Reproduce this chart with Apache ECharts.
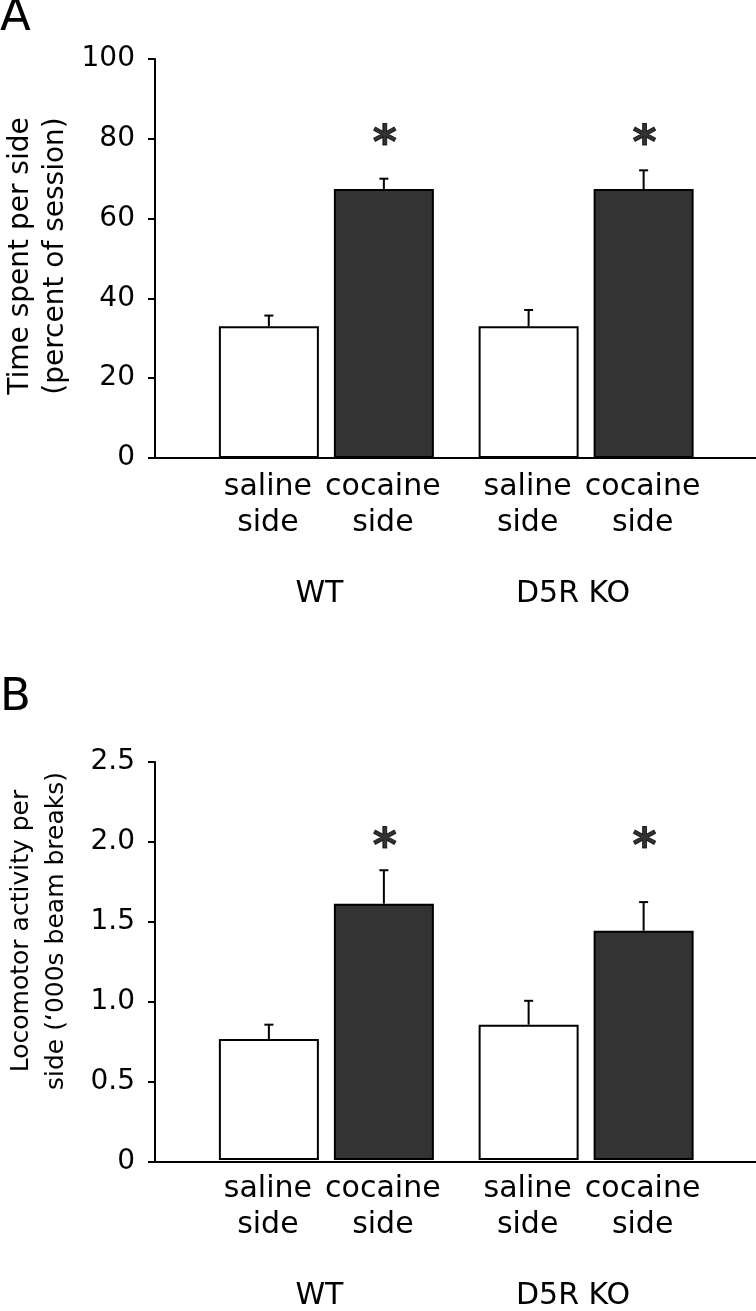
<!DOCTYPE html>
<html>
<head>
<meta charset="utf-8">
<script src="https://cdn.jsdelivr.net/npm/echarts@6/dist/echarts.min.js"></script>
<style>
html,body{margin:0;padding:0;background:#fff;}
#c{width:756px;height:1311px;}
</style>
</head>
<body>
<div id="c"></div>
<script>
// ---- data ----
var groups = ['WT', 'D5R KO'];
var sideLabels = ['saline\nside', 'cocaine\nside'];
var salineA = [33.0, 33.0];
var salineErrA = [2.7, 4.1];
var cocaineA = [67.4, 67.4];
var cocaineErrA = [2.6, 4.7];
var sigA = [81, 81];
var salineB = [0.76, 0.85];
var salineErrB = [0.09, 0.15];
var cocaineB = [1.61, 1.44];
var cocaineErrB = [0.21, 0.18];
var sigB = [2.02, 2.02];
var yTitleA = 'Time spent per side\n(percent of session)';
var yTitleB = 'Locomotor activity per\nside (\u2018000s beam breaks)';

// ---- layout ----
var FONT = '"DejaVu Sans", Verdana, sans-serif';
var BAR_OFF = 57.5;
var panels = [
  {top: 59, height: 399, max: 100, interval: 20, dec: 0, title: yTitleA, titleSize: 28, titleX: 38, titleY: 256,
   sal: salineA, salE: salineErrA, coc: cocaineA, cocE: cocaineErrA, sig: sigA, letter: 'A', letterTop: -4},
  {top: 762, height: 400, max: 2.5, interval: 0.5, dec: 1, title: yTitleB, titleSize: 25, titleX: 39, titleY: 931,
   sal: salineB, salE: salineErrB, coc: cocaineB, cocE: cocaineErrB, sig: sigB, letter: 'B', letterTop: 676}
];

var grid = [], xAxis = [], yAxis = [], series = [], graphic = [];
panels.forEach(function (p, k) {
  var gDecor = grid.length;
  grid.push({left: 155, right: 0, top: p.top, height: p.height});
  var gBars = grid.length;
  grid.push({left: 196.5, width: 519.5, top: p.top, height: p.height});

  // decor axes (y axis with ticks, full-width baseline)
  xAxis.push({gridIndex: gDecor, type: 'value', min: 0, max: 1,
    axisLine: {show: true, onZero: false, lineStyle: {color: '#000', width: 2}},
    axisTick: {show: false}, axisLabel: {show: false}, splitLine: {show: false}});
  yAxis.push({gridIndex: gDecor, type: 'value', min: 0, max: p.max, interval: p.interval,
    axisLine: {show: true, lineStyle: {color: '#000', width: 2}},
    axisTick: {show: true, length: 7, lineStyle: {color: '#000', width: 2}},
    axisLabel: {show: true, margin: 20, color: '#000', fontSize: 28, fontFamily: FONT,
      formatter: function (v) { return v === 0 ? '0' : v.toFixed(p.dec); }},
    splitLine: {show: false}});

  // bar axes
  var bx = xAxis.length;
  xAxis.push({gridIndex: gBars, type: 'category', data: groups,
    axisLine: {show: false}, axisTick: {show: false},
    axisLabel: {show: true, interval: 0, hideOverlap: false, margin: 121, color: '#000', fontSize: 30, fontFamily: FONT,
      formatter: function (v, i) { return '{g' + i + '|' + v + '}'; },
      rich: {g0: {fontSize: 30, fontFamily: FONT, color: '#000', padding: [0, 14, 0, 0]},
             g1: {fontSize: 30, fontFamily: FONT, color: '#000', padding: [0, 26, 0, 0]}}}});
  var by = yAxis.length;
  yAxis.push({gridIndex: gBars, type: 'value', min: 0, max: p.max, show: false});

  function barLabel(txt) {
    return {show: true, position: ['50%', '100%'], offset: [-1, 11], align: 'center', verticalAlign: 'top',
      formatter: txt, color: '#000', fontSize: 30, fontFamily: FONT, lineHeight: 36};
  }
  series.push({type: 'bar', xAxisIndex: bx, yAxisIndex: by, data: p.sal, barWidth: 100, barGap: '15%',
    itemStyle: {color: '#ffffff', borderColor: '#000', borderWidth: 2},
    label: barLabel(sideLabels[0]), silent: true, animation: false});
  series.push({type: 'bar', xAxisIndex: bx, yAxisIndex: by, data: p.coc, barWidth: 100, barGap: '15%',
    itemStyle: {color: '#333333', borderColor: '#000', borderWidth: 2},
    label: barLabel(sideLabels[1]), silent: true, animation: false});

  // error bars
  var errData = [];
  p.sal.forEach(function (v, i) { errData.push([i, v, p.salE[i], -1]); });
  p.coc.forEach(function (v, i) { errData.push([i, v, p.cocE[i], 1]); });
  series.push({type: 'custom', xAxisIndex: bx, yAxisIndex: by, data: errData, animation: false, silent: true, z: 5,
    renderItem: function (params, api) {
      var base = api.coord([api.value(0), api.value(1)]);
      var top = api.coord([api.value(0), api.value(1) + api.value(2)]);
      var x = base[0] + api.value(3) * BAR_OFF;
      var st = {stroke: '#000', lineWidth: 2};
      return {type: 'group', children: [
        {type: 'line', shape: {x1: x, y1: base[1], x2: x, y2: top[1]}, style: st},
        {type: 'line', shape: {x1: x - 4.5, y1: top[1], x2: x + 4.5, y2: top[1]}, style: st}
      ]};
    }});

  // significance asterisks
  series.push({type: 'scatter', xAxisIndex: bx, yAxisIndex: by,
    data: p.sig.map(function (v, i) { return [i, v]; }),
    symbolSize: 1, itemStyle: {color: 'rgba(0,0,0,0)'}, animation: false, silent: true,
    label: {show: true, position: 'inside', formatter: '*', offset: [BAR_OFF + 1, 11], color: '#000',
      fontSize: 46, fontWeight: 'bold', fontFamily: FONT, textBorderColor: '#000', textBorderWidth: 1}});

  // y-axis title
  graphic.push({type: 'text', x: p.titleX, y: p.titleY, rotation: Math.PI / 2,
    style: {text: p.title, fontSize: p.titleSize, fontFamily: FONT, fill: '#000', lineHeight: 35,
      align: 'center', verticalAlign: 'middle'}});
  // panel letter
  graphic.push({type: 'text', left: 0, top: p.letterTop,
    style: {text: p.letter, fontSize: 45, fontFamily: FONT, fill: '#000'}});
});

var chart = echarts.init(document.getElementById('c'), null, {renderer: 'canvas'});
chart.setOption({
  backgroundColor: '#ffffff',
  animation: false,
  grid: grid, xAxis: xAxis, yAxis: yAxis, series: series, graphic: graphic
});
</script>
</body>
</html>
